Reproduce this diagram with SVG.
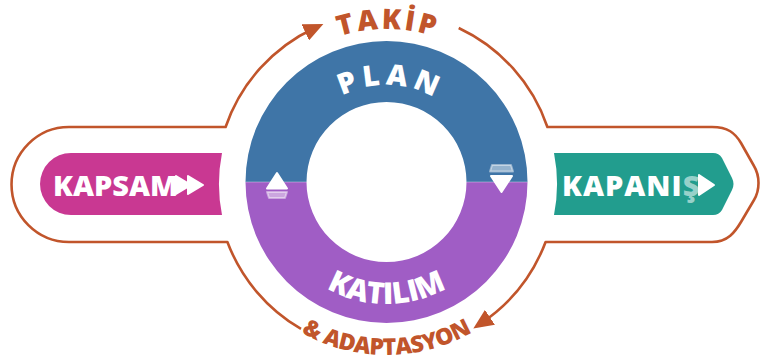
<svg xmlns="http://www.w3.org/2000/svg" width="773" height="362" viewBox="0 0 773 362">
<defs>
<style>
.ol{fill:none;stroke:#C1552B;stroke-width:2.6;stroke-linejoin:round}
.lbl{font-family:"Open Sans","Liberation Sans",sans-serif;font-weight:800;fill:#fff}
.otx{font-family:"Open Sans","Liberation Sans",sans-serif;font-weight:800;fill:#C1552B}
.ico{fill:#fff;stroke:#fff;stroke-width:2;stroke-linejoin:round}
.fade{fill:#fff;fill-opacity:0.45;stroke:#fff;stroke-opacity:0.45;stroke-width:2;stroke-linejoin:round}
</style>
<marker id="ah" markerUnits="userSpaceOnUse" viewBox="0 0 20 18" markerWidth="20" markerHeight="18" refX="11" refY="9" orient="auto">
<path d="M0,0 L20,9 L0,18 Z" fill="#C1552B"/>
</marker>
<path id="pPlan" d="M289.5,182 A96,96 0 0 1 483.5,182"/>
<path id="pTakip" d="M233.5,182 A152,152 0 0 1 539.5,182"/>
<path id="pKat" d="M264.5,182 A122,122 0 0 0 508.5,182"/>
<path id="pAda" d="M213.5,182 A173,173 0 0 0 559.5,182"/>
</defs>
<rect width="773" height="362" fill="#fff"/>

<g id="connectors">
<path class="ol" d="M301,328.9 A170,170 0 0 1 227.4,242 H69 A57.5,57.5 0 0 1 69,127 H225.6 A170,170 0 0 1 315.2,27.7" marker-end="url(#ah)"/>
<path class="ol" d="M458.7,28 A170,170 0 0 1 547.4,127 H712 C728,127 735,133 741,143 L754,166 C760,176 760,190 754,200 L741,222 C735,232 728,242 712,242 H545.6 A170,170 0 0 1 480.8,323.4" marker-end="url(#ah)"/>
</g>

<g id="takip">
<text class="otx" font-size="28" letter-spacing="3"><textPath href="#pTakip" startOffset="50.3%" text-anchor="middle">TAKİP</textPath></text>
</g>
<g id="adaptasyon">
<text class="otx" font-size="23" letter-spacing="-0.6"><textPath href="#pAda" startOffset="50%" text-anchor="middle">&amp; ADAPTASYON</textPath></text>
</g>

<g id="plan">
<path d="M245.5,182 A141,141 0 0 1 527.5,182 L466.5,182 A80,80 0 0 0 306.5,182 Z" fill="#3F75A7"/>
<text class="lbl" font-size="29" letter-spacing="5"><textPath href="#pPlan" startOffset="51.3%" text-anchor="middle">PLAN</textPath></text>
</g>

<g id="katilim">
<path d="M245.5,182 A141,141 0 0 0 527.5,182 L466.5,182 A80,80 0 0 1 306.5,182 Z" fill="#A05DC5"/>
<text class="lbl" font-size="30" letter-spacing="-0.3"><textPath href="#pKat" startOffset="50%" text-anchor="middle">KATILIM</textPath></text>
</g>
<line x1="245.5" y1="182" x2="306.5" y2="182" stroke="#fff" stroke-opacity="0.35" stroke-width="1"/>
<line x1="466.5" y1="182" x2="527.5" y2="182" stroke="#fff" stroke-opacity="0.35" stroke-width="1"/>

<g id="cycle-icons">
<path class="fade" d="M492,165 H511 L513,171.5 H490 Z"/>
<path class="ico" d="M491,176 H512 L501.5,192 Z"/>
<path class="fade" d="M267,192 H287 L285,198 H269 Z"/>
<path class="ico" d="M277,173 L287,188.5 H267 Z"/>
</g>

<g id="kapsam">
<path d="M71,153 H222 A160,160 0 0 0 222,215 H71 A31,31 0 0 1 71,153 Z" fill="#C93892"/>
<text class="lbl" x="53" y="196" font-size="29">KAPSAM</text>
<path class="ico" d="M176,176 L191,185 L176,194 Z"/>
<path class="ico" d="M188,176 L203,185 L188,194 Z"/>
</g>

<g id="kapanis">
<path d="M554,153 H713 Q719,153 722,158 L732,178 Q735,184 732,190 L722,210 Q719,215 713,215 H554 A160,160 0 0 0 554,153 Z" fill="#229D8E"/>
<text class="lbl" x="562" y="196" font-size="29" letter-spacing="1">KAPANI<tspan fill-opacity="0.55">Ş</tspan></text>
<path class="ico" d="M699,175 L714,185 L699,195 Z"/>
</g>
</svg>
